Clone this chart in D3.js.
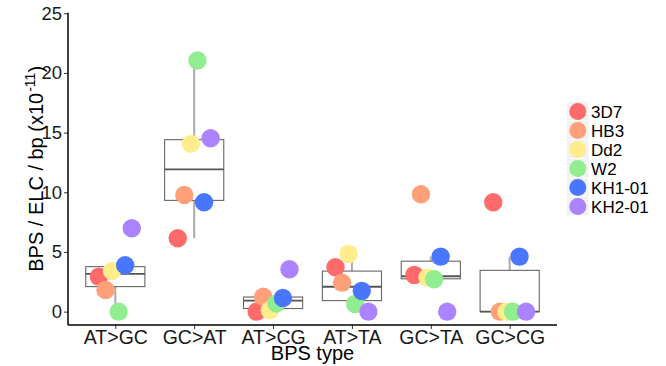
<!DOCTYPE html>
<html>
<head>
<meta charset="utf-8">
<script src="https://cdn.jsdelivr.net/npm/d3@7"></script>
<style>
  body { margin: 0; background: #fff; }
  text { font-family: "Liberation Sans", Arial, sans-serif; }
</style>
</head>
<body>
<svg id="chart" width="666" height="366"></svg>
<script>
// datos
const categories = ['AT>GC', 'GC>AT', 'AT>CG', 'AT>TA', 'GC>TA', 'GC>CG'];
const strains = ['3D7', 'HB3', 'Dd2', 'W2', 'KH1-01', 'KH2-01'];
const strainColors = ['#FF6A6A', '#FFA07A', '#FFEC8B', '#90EE90', '#4876FF', '#AB82FF'];

// un array por cepa, en el orden de categories
const v3D7  = [2.93, 6.15, 0.00, 3.72, 3.08, 9.17];
const vHB3  = [1.82, 9.78, 1.25, 2.43, 9.84, 0.00];
const vDd2  = [3.41, 14.06, 0.12, 4.84, 2.85, 0.00];
const vW2   = [0.00, 21.04, 0.68, 0.65, 2.72, 0.00];
const vKH1  = [3.89, 9.17, 1.15, 1.74, 4.61, 4.61];
const vKH2  = [6.99, 14.53, 3.55, 0.00, 0.00, 0.00];
const seriesValues = [v3D7, vHB3, vDd2, vW2, vKH1, vKH2];

const yTicks = [0, 5, 10, 15, 20, 25];

const svg = d3.select('#chart');

const plotLeft = 68, plotRight = 557, plotTop = 12.7, plotBottom = 325;

const x = d3.scalePoint()
    .domain(categories)
    .range([plotLeft, plotRight])
    .padding(0.6);

const y = d3.scaleLinear()
    .domain([-1.12, 25.05])
    .range([plotBottom, plotTop]);

const step = x.step();
const boxW = step * 0.75;
const dodge = step * 0.5 / strains.length;

// estadisticas del boxplot (tipo 7, como R)
function boxStats(vals) {
    const s = vals.slice().sort(d3.ascending);
    const q1 = d3.quantile(s, 0.25);
    const med = d3.quantile(s, 0.5);
    const q3 = d3.quantile(s, 0.75);
    const iqr = q3 - q1;
    const lo = d3.min(s.filter(v => v >= q1 - 1.5 * iqr));
    const hi = d3.max(s.filter(v => v <= q3 + 1.5 * iqr));
    return { q1, med, q3, lo, hi };
}

const boxes = categories.map((c, ci) => {
    const vals = seriesValues.map(sv => sv[ci]);
    return { cat: c, ...boxStats(vals) };
});

const gBox = svg.append('g');
boxes.forEach(b => {
    const cx = x(b.cat);
    // bigotes
    gBox.append('line')
        .attr('x1', cx).attr('x2', cx)
        .attr('y1', y(b.q3)).attr('y2', y(b.hi))
        .attr('stroke', '#aaa').attr('stroke-width', 2);
    gBox.append('line')
        .attr('x1', cx).attr('x2', cx)
        .attr('y1', y(b.q1)).attr('y2', y(b.lo))
        .attr('stroke', '#aaa').attr('stroke-width', 2);
    // caja
    gBox.append('rect')
        .attr('x', cx - boxW / 2)
        .attr('y', y(b.q3))
        .attr('width', boxW)
        .attr('height', Math.max(0, y(b.q1) - y(b.q3)))
        .attr('fill', 'white')
        .attr('stroke', '#666')
        .attr('stroke-width', 1.1);
    // mediana
    gBox.append('line')
        .attr('x1', cx - boxW / 2).attr('x2', cx + boxW / 2)
        .attr('y1', y(b.med)).attr('y2', y(b.med))
        .attr('stroke', '#555').attr('stroke-width', 1.8);
});

// puntos (dodge por cepa)
const gPts = svg.append('g');
strains.forEach((st, si) => {
    categories.forEach((c, ci) => {
        gPts.append('circle')
            .attr('cx', x(c) + (si - (strains.length - 1) / 2) * dodge)
            .attr('cy', y(seriesValues[si][ci]))
            .attr('r', 9.2)
            .attr('fill', strainColors[si]);
    });
});

// ejes
const yAxis = d3.axisLeft(y).tickValues(yTicks).tickSize(4).tickPadding(2);
const gy = svg.append('g').attr('transform', `translate(${plotLeft},0)`).call(yAxis);
gy.select('.domain').remove();
gy.selectAll('.tick line').attr('stroke', '#333');
gy.selectAll('.tick text').attr('font-size', 18.5).attr('fill', '#1a1a1a');

const xAxis = d3.axisBottom(x).tickSize(4).tickPadding(1);
const gx = svg.append('g').attr('transform', `translate(0,${plotBottom})`).call(xAxis);
gx.select('.domain').remove();
gx.selectAll('.tick line').attr('stroke', '#333');
gx.selectAll('.tick text').attr('font-size', 19.5).attr('fill', '#1a1a1a');

svg.append('line')
    .attr('x1', plotLeft).attr('x2', plotLeft)
    .attr('y1', plotTop).attr('y2', plotBottom)
    .attr('stroke', 'black').attr('stroke-width', 1.5);
svg.append('line')
    .attr('x1', plotLeft).attr('x2', plotRight)
    .attr('y1', plotBottom).attr('y2', plotBottom)
    .attr('stroke', 'black').attr('stroke-width', 1.5);

// titulos
svg.append('text')
    .attr('x', (plotLeft + plotRight) / 2)
    .attr('y', 360)
    .attr('text-anchor', 'middle')
    .attr('font-size', 20)
    .attr('fill', 'black')
    .text('BPS type');

const yt = svg.append('text')
    .attr('transform', `translate(43,${(plotTop + plotBottom) / 2}) rotate(-90)`)
    .attr('text-anchor', 'middle')
    .attr('font-size', 20)
    .attr('fill', 'black');
yt.append('tspan').text('BPS / ELC / bp (x10');
yt.append('tspan').attr('font-size', 14).attr('dy', -8).attr('dx', 1).text('-11');
yt.append('tspan').attr('dy', 8).text(')');

// leyenda
const legX = 567, legY0 = 102, keyW = 21.6, keyH = 19;
const leg = svg.append('g');
strains.forEach((st, si) => {
    const yy = legY0 + si * keyH;
    leg.append('rect')
        .attr('x', legX).attr('y', yy)
        .attr('width', keyW).attr('height', keyH - 0.6)
        .attr('fill', '#f2f2f2');
    leg.append('circle')
        .attr('cx', legX + keyW / 2)
        .attr('cy', yy + keyH / 2)
        .attr('r', 8.5)
        .attr('fill', strainColors[si]);
    leg.append('text')
        .attr('x', legX + keyW + 2.5)
        .attr('y', yy + keyH / 2)
        .attr('dy', '0.36em')
        .attr('font-size', 17)
        .attr('fill', 'black')
        .text(st);
});
</script>
</body>
</html>
